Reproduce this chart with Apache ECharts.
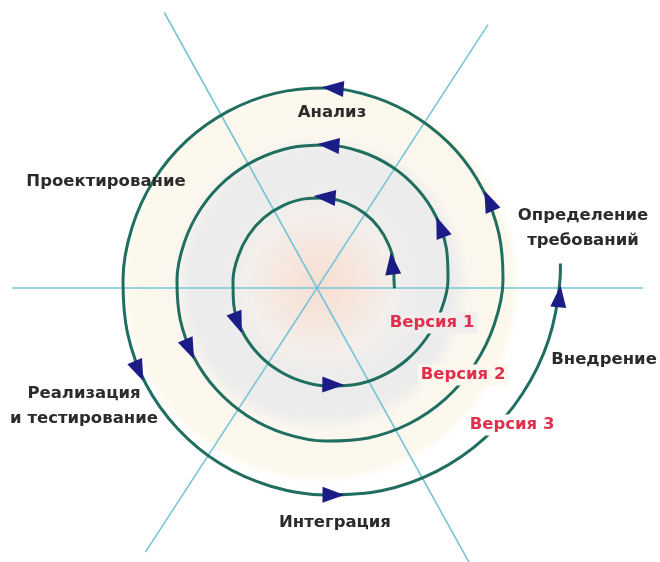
<!DOCTYPE html>
<html>
<head>
<meta charset="utf-8">
<script src="https://cdn.jsdelivr.net/npm/echarts@6.0.0/dist/echarts.min.js"></script>
<style>
  html, body { margin: 0; padding: 0; background: #ffffff; }
  #chart { width: 660px; height: 562px; }
</style>
</head>
<body>
<div id="chart"></div>
<script>
// ---- data ----
// spokes (angle in degrees CCW from the right, length in px)
const spokeAngles  = [0, 57, 119, 180, 237, 299];
const spokeLengths = [326, 314, 315, 305, 315, 316];

// spiral: cumulative angle (deg, CCW from the right) and radius
const spiralAngles = [-7, 0, 15, 30, 45, 60, 75, 90, 105, 120, 135, 150, 165,
  180, 195, 210, 225, 240, 255, 270, 285, 300, 315, 330, 345,
  360, 375, 390, 405, 420, 435, 450, 465, 480, 495, 510, 525,
  540, 555, 570, 585, 600, 615, 630, 645, 660, 675, 690, 705,
  720, 735, 750, 765, 780, 795, 810, 825, 840, 855, 870, 885,
  900, 915, 930, 945, 960, 975, 990, 1005, 1020, 1035, 1050, 1065, 1080, 1084];
const spiralRadius = [69, 68, 70, 72, 74.5, 77, 79.5, 82, 84, 86, 88, 89.5, 91,
  93, 95.5, 98, 100, 102, 104, 106, 108.5, 111, 113.5, 116, 119,
  122, 124.5, 127, 129, 131, 133, 135, 137, 139, 141.5, 144, 146.5,
  149, 151, 153, 155, 157, 159, 161, 163.5, 166, 168.5, 171, 174,
  177, 179, 181, 183.5, 186, 189, 192, 193.5, 195, 197, 199, 201,
  203, 205.5, 208, 210, 212, 213.5, 215, 218, 221, 224, 227, 230.5, 234, 235];

// direction arrows along the spiral
const arrowAngles = [14, 91, 206, 274, 385, 449, 567, 746, 808, 926, 992, 1076];
const arrowRadius = [68, 83, 98, 105, 126, 135, 153, 181, 192, 208, 215, 234];

// texts
const phaseLabels = ['Анализ', 'Проектирование', 'Определение\nтребований',
  'Реализация\nи тестирование', 'Внедрение', 'Интеграция'];
const versionLabels = ['Версия 1', 'Версия 2', 'Версия 3'];

// ---- layout / style ----
const phasePos = [[332, 113], [106, 182], [583, 228], [84, 406], [604, 360], [335, 523]];
const versionPos = [[432, 323], [463, 375], [512, 425]];
const versionBg = ['#efeeec', '#fcf8ee', '#ffffff'];
const FONT = 'bold 16.5px "DejaVu Sans", sans-serif';

const norm = a => ((a % 360) + 360) % 360;

const chart = echarts.init(document.getElementById('chart'), null, { renderer: 'canvas' });

const series = [];

// background shading disc
series.push({
  type: 'pie',
  center: [321, 284],
  radius: [0, 200],
  silent: true,
  label: { show: false },
  labelLine: { show: false },
  emphasis: { disabled: true },
  z: 1,
  data: [{
    value: 1,
    itemStyle: {
      color: {
        type: 'radial', x: 0.5, y: 0.5, r: 0.5,
        colorStops: [
          { offset: 0.0, color: '#f7dfd2' },
          { offset: 0.18, color: '#f6e6dd' },
          { offset: 0.36, color: '#f3efeb' },
          { offset: 0.48, color: '#ececec' },
          { offset: 0.66, color: '#ececec' },
          { offset: 0.74, color: '#fbf7ee' },
          { offset: 0.95, color: '#fdf8ec' },
          { offset: 1.0, color: '#ffffff' }
        ]
      }
    }
  }]
});

// spokes
spokeAngles.forEach((a, i) => {
  series.push({
    type: 'line',
    coordinateSystem: 'polar',
    polarIndex: 0,
    silent: true,
    showSymbol: false,
    z: 3,
    lineStyle: { color: '#78c4d8', width: 1.6 },
    data: [[0, a], [spokeLengths[i], a]]
  });
});

// spiral
series.push({
  type: 'line',
  coordinateSystem: 'polar',
  polarIndex: 1,
  silent: true,
  showSymbol: false,
  smooth: 0.3,
  z: 4,
  lineStyle: { color: '#1f6e60', width: 3 },
  data: spiralAngles.map((a, i) => [spiralRadius[i], norm(a)])
});

// arrows
series.push({
  type: 'scatter',
  coordinateSystem: 'polar',
  polarIndex: 1,
  silent: true,
  symbol: 'triangle',
  symbolSize: [16, 22],
  z: 5,
  itemStyle: { color: '#1c1c86', opacity: 1 },
  data: arrowAngles.map((a, i) => {
    const pitch = Math.atan2(55 / (2 * Math.PI), arrowRadius[i]) * 180 / Math.PI;
    return { value: [arrowRadius[i], norm(a)], symbolRotate: norm(a) - pitch };
  })
});

const graphic = [];
phaseLabels.forEach((t, i) => {
  graphic.push({
    type: 'text', x: phasePos[i][0], y: phasePos[i][1], z: 100,
    style: { text: t, font: FONT, fill: '#2b2b2b', align: 'center', verticalAlign: 'middle', lineHeight: 25 }
  });
});
versionLabels.forEach((t, i) => {
  graphic.push({
    type: 'text', x: versionPos[i][0], y: versionPos[i][1], z: 100,
    style: { text: t, font: FONT, fill: '#e0304e', align: 'center', verticalAlign: 'middle',
             backgroundColor: versionBg[i], padding: [2, 3] }
  });
});

const hiddenAxis = { show: false, axisLine: { show: false }, axisTick: { show: false }, axisLabel: { show: false }, splitLine: { show: false } };

chart.setOption({
  backgroundColor: '#ffffff',
  animation: false,
  polar: [
    { center: [317, 288], radius: 330 },
    { center: [326, 280], radius: 330 }
  ],
  angleAxis: [
    Object.assign({ polarIndex: 0, type: 'value', min: 0, max: 360, startAngle: 0, clockwise: false }, hiddenAxis),
    Object.assign({ polarIndex: 1, type: 'value', min: 0, max: 360, startAngle: 0, clockwise: false }, hiddenAxis)
  ],
  radiusAxis: [
    Object.assign({ polarIndex: 0, type: 'value', min: 0, max: 330 }, hiddenAxis),
    Object.assign({ polarIndex: 1, type: 'value', min: 0, max: 330 }, hiddenAxis)
  ],
  series: series,
  graphic: graphic
});
</script>
</body>
</html>
